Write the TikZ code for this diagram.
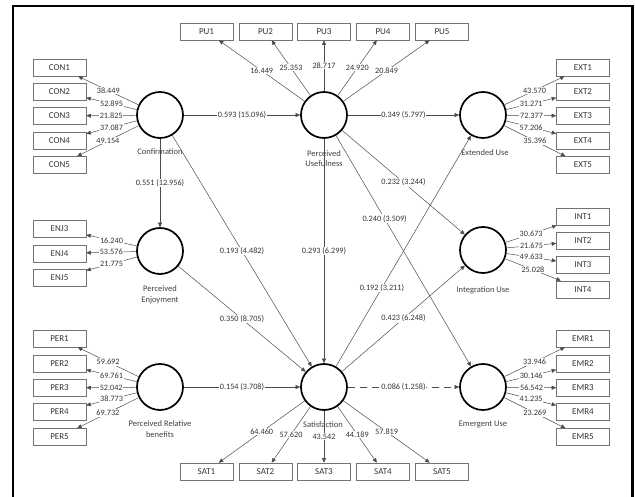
\documentclass[tikz,border=0pt]{standalone}
\usepackage{fontspec}
\setmainfont{Carlito}
\usetikzlibrary{arrows.meta}
\begin{document}
\begin{tikzpicture}[x=1pt,y=-1pt,
 lv/.style={circle,draw=black,line width=1.7pt,minimum size=46pt,inner sep=0pt},
 ind/.style={rectangle,draw=black!55,line width=0.6pt,minimum width=53pt,minimum height=17pt,inner sep=0pt,font=\fontsize{9}{10}\selectfont,text=black!80},
 lvname/.style={font=\fontsize{8.5}{10.5}\selectfont,text=black!75,align=center,inner sep=0pt},
 ld/.style={draw=black!70,line width=0.5pt,-{Triangle[length=4.5pt,width=4pt]}},
 num/.style={fill=white,inner sep=0.8pt,font=\fontsize{8.2}{9}\selectfont,text=black!80},
]
\useasboundingbox (0,0) rectangle (635,497);
\draw[line width=2.6pt] (13,497) -- (13,6) -- (632.5,6) -- (632.5,497);

% latent variables
\node[lv] (conf) at (160,115) {};
\node[lv] (pu) at (324,115) {};
\node[lv] (ext) at (483,115) {};
\node[lv] (enj) at (160,251) {};
\node[lv] (integ) at (483,250) {};
\node[lv] (per) at (160,387) {};
\node[lv] (sat) at (324,387) {};
\node[lv] (emr) at (483,387) {};

% latent names
\node[lvname] (nconf) at (160,152) {Confirmation};
\node[lvname] (npu) at (324,158.5) {Perceived\\Usefulness};
\node[lvname] (next) at (485,153) {Extended Use};
\node[lvname] (nenj) at (160,295) {Perceived\\Enjoyment};
\node[lvname] (nint) at (483,290) {Integration Use};
\node[lvname] (nper) at (160,429) {Perceived Relative\\benefits};
\node[lvname] (nsat) at (323,425) {Satisfaction};
\node[lvname] (nemr) at (483,425) {Emergent Use};

% indicators
\foreach \i/\y in {1/67.5,2/91.5,3/116,4/140.5,5/165}{
  \node[ind] (CON\i) at (59.5,\y) {CON\i};
  \node[ind] (EXT\i) at (583,\y) {EXT\i};
}
\foreach \i/\x in {1/206.5,2/265.5,3/324,4/383,5/442}{
  \node[ind] (PU\i) at (\x,31.5) {PU\i};
  \node[ind] (SAT\i) at (\x,471.5) {SAT\i};
}
\foreach \i/\y in {3/229,4/253.5,5/277.5}{
  \node[ind] (ENJ\i) at (59.5,\y) {ENJ\i};
}
\foreach \i/\y in {1/216.6,2/241,3/265,4/289.5}{
  \node[ind] (INT\i) at (583,\y) {INT\i};
}
\foreach \i/\y in {1/338.5,2/363.5,3/388,4/412,5/437}{
  \node[ind] (PER\i) at (59.5,\y) {PER\i};
  \node[ind] (EMR\i) at (583,\y) {EMR\i};
}

% loadings
\foreach \i/\v in {1/38.449,2/52.895,3/21.825,4/37.087,5/49.154}{
  \draw[ld] (conf) -- node[num]{\v} (CON\i);
}
\foreach \i/\v in {1/43.570,2/31.271,3/72.377,4/57.206,5/35.396}{
  \draw[ld] (ext) -- node[num]{\v} (EXT\i);
}
\foreach \i/\v in {1/16.449,2/25.353,3/28.717,4/24.920,5/20.849}{
  \draw[ld] (pu) -- node[num]{\v} (PU\i);
}
\foreach \i/\v in {1/64.460,2/57.620,3/43.542,4/44.189,5/57.819}{
  \draw[ld] (sat) -- node[num]{\v} (SAT\i);
}
\foreach \i/\v in {3/16.240,4/53.576,5/21.775}{
  \draw[ld] (enj) -- node[num]{\v} (ENJ\i);
}
\foreach \i/\v in {1/30.673,2/21.675,3/49.633,4/25.028}{
  \draw[ld] (integ) -- node[num]{\v} (INT\i);
}
\foreach \i/\v in {1/59.692,2/69.761,3/52.042,4/38.773,5/69.732}{
  \draw[ld] (per) -- node[num]{\v} (PER\i);
}
\foreach \i/\v in {1/33.946,2/30.146,3/56.542,4/41.235,5/23.269}{
  \draw[ld] (emr) -- node[num]{\v} (EMR\i);
}

% structural paths
\draw[ld] (conf) -- node[num]{0.593 (15.096)} (pu);
\draw[ld] (pu) -- node[num]{0.349 (5.797)} (ext);
\draw[ld] (conf) -- node[num]{0.551 (12.956)} (enj);
\draw[ld] (conf) -- node[num]{0.193 (4.482)} (sat);
\draw[ld] (pu) -- node[num]{0.293 (6.299)} (sat);
\draw[ld] (enj) -- node[num]{0.350 (8.705)} (sat);
\draw[ld] (per) -- node[num]{0.154 (3.708)} (sat);
\draw[ld] (sat) -- node[num,pos=0.34]{0.192 (3.211)} (ext);
\draw[ld] (sat) -- node[num]{0.423 (6.248)} (integ);
\draw[ld] (pu) -- node[num]{0.232 (3.244)} (integ);
\draw[ld] (pu) -- node[num,pos=0.36]{0.240 (3.509)} (emr);
\draw[ld,dash pattern=on 7pt off 5pt] (sat) -- node[num]{0.086 (1.258)} (emr);
\end{tikzpicture}
\end{document}
